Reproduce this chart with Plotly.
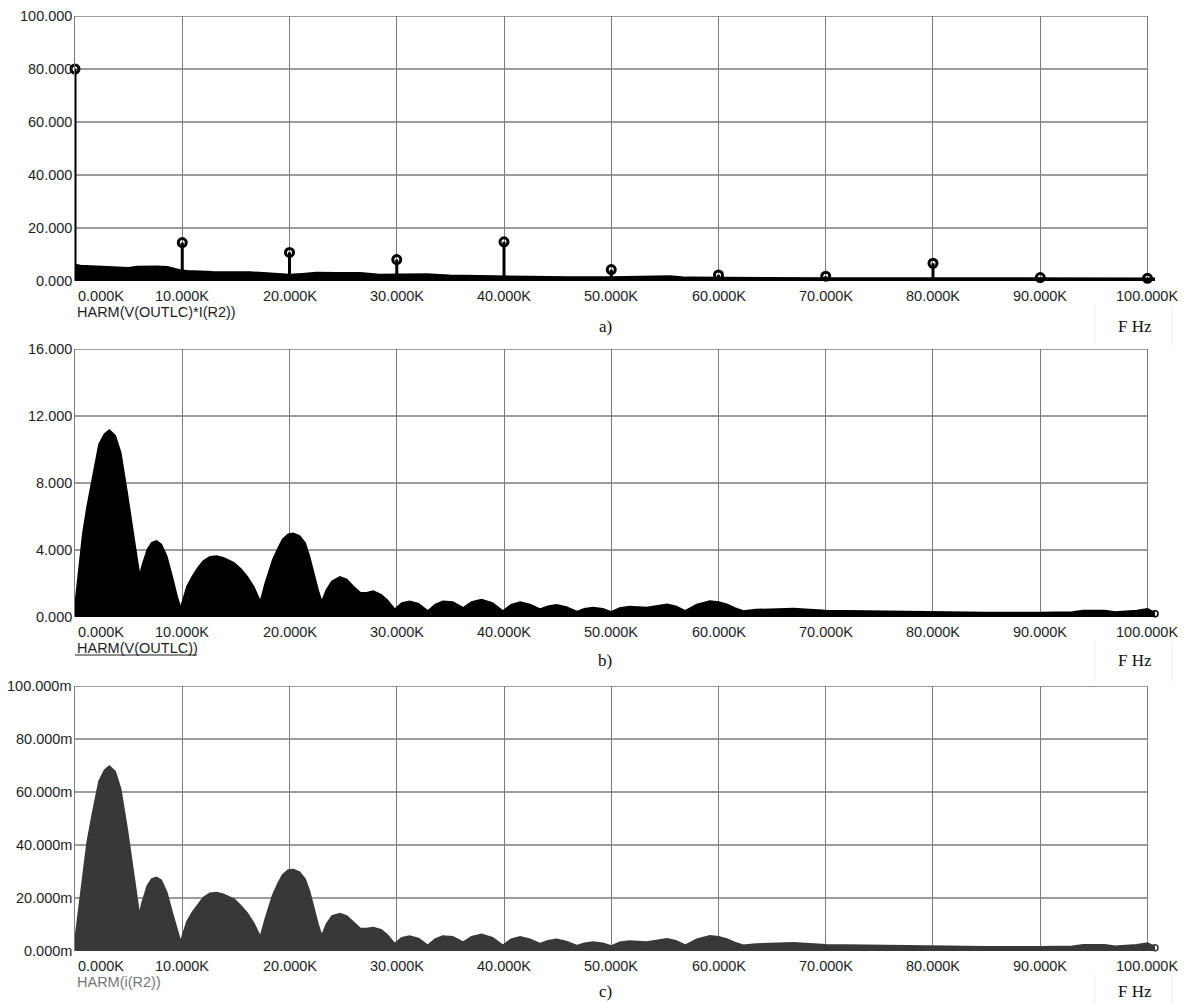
import plotly.graph_objects as go

# ---------------- data ----------------
x_ticks = [0, 10, 20, 30, 40, 50, 60, 70, 80, 90, 100]
x_tick_labels = ["0.000K", "10.000K", "20.000K", "30.000K", "40.000K", "50.000K",
                 "60.000K", "70.000K", "80.000K", "90.000K", "100.000K"]

# panel a: harmonic stems of HARM(V(OUTLC)*I(R2))
a_harm_freq = [0, 10, 20, 30, 40, 50, 60, 70, 80, 90, 100]
a_harm_vals = [80.0, 14.5, 10.8, 8.1, 14.8, 4.3, 2.3, 1.8, 6.7, 1.3, 1.0]
# panel a: noise floor envelope
a_floor_freq = [0, 0.5, 1.5, 2.3, 3.2, 4.2, 5.0, 5.8, 6.7, 7.6, 8.6, 9.3, 9.85, 10.5, 11.65,
                12.8, 14.1, 15.4, 16.3, 17.2, 18.5, 20.0, 21.2, 22.5, 24.5, 26.6, 28.4, 30.5,
                32.8, 34.9, 38.0, 42.0, 43.5, 46, 50, 53, 54, 55.5, 57, 60, 65, 70, 75, 80,
                85, 90, 95, 100, 100.7]
a_floor_vals = [5.8, 5.4, 5.2, 5.0, 4.7, 4.4, 4.5, 5.0, 5.2, 5.1, 4.9, 4.2, 3.6, 3.4, 3.1,
                3.0, 2.9, 3.1, 2.9, 2.7, 2.5, 2.0, 2.3, 2.7, 2.6, 2.6, 2.0, 2.1,
                2.2, 1.7, 1.5, 1.3, 0.9, 1.0, 1.0, 1.1, 1.5, 1.4, 0.9, 0.8, 0.8, 0.7, 0.7, 0.7,
                0.7, 0.6, 0.6, 0.7, 0.6]
a_y_ticks = [0, 20, 40, 60, 80, 100]
a_y_labels = ["0.000", "20.000", "40.000", "60.000", "80.000", "100.000"]

# panels b and c: spectrum envelopes
bc_freq = [0, 0.4, 0.8, 1.2, 1.7, 2.3, 2.8, 3.2, 3.7, 4.2, 4.8, 5.3, 5.7, 6.0, 6.3, 6.8, 7.2,
           7.6, 8.0, 8.5, 9.0, 9.5, 9.85, 10.1, 10.5, 11.0, 11.5, 12.0, 12.6, 13.2, 13.8, 14.3,
           14.8, 15.4, 16.0, 16.6, 17.0, 17.3, 17.8, 18.5, 19.0, 19.4, 19.9, 20.35, 20.9, 21.4,
           21.8, 22.2, 22.6, 23.0, 23.5, 24.0, 24.7, 25.3, 25.9, 26.6, 27.2, 27.8, 28.5, 29.05,
           29.8, 30.5, 31.2, 32.0, 32.9, 33.6, 34.3, 35.2, 36.2, 37.0, 37.9, 38.9, 39.9, 40.7,
           41.5, 42.4, 43.35, 44.1, 44.9, 45.8, 46.8, 47.5, 48.3, 49.2, 50.0, 50.8, 51.7, 52.5,
           53.3, 54.2, 55.2, 56.0, 56.9, 58.0, 59.2, 60.0, 60.75, 61.5, 62.3, 63.5, 64.5, 66.0,
           67.0, 70, 75, 80, 85, 90, 93, 94, 96, 97, 98, 99, 100, 100.7]
b_vals = [0.3, 2.5, 5.0, 6.6, 8.3, 10.3, 10.9, 11.1, 10.8, 9.8, 7.4, 5.2, 3.5, 2.3, 3.0, 4.0, 4.4,
          4.5, 4.3, 3.6, 2.4, 1.1, 0.4, 1.0, 1.8, 2.4, 2.9, 3.3, 3.55, 3.6, 3.5, 3.35,
          3.2, 2.85, 2.4, 1.8, 1.2, 0.8, 2.0, 3.4, 4.1, 4.6, 4.9, 4.95, 4.8, 4.4,
          3.6, 2.6, 1.6, 0.8, 1.6, 2.1, 2.35, 2.2, 1.8, 1.4, 1.4, 1.5, 1.3, 1.0,
          0.4, 0.8, 0.9, 0.75, 0.3, 0.7, 0.9, 0.85, 0.5, 0.85, 1.0, 0.8, 0.3, 0.7,
          0.85, 0.7, 0.42, 0.6, 0.68, 0.55, 0.28, 0.45, 0.52, 0.45, 0.26, 0.5, 0.58, 0.55,
          0.52, 0.62, 0.72, 0.6, 0.32, 0.7, 0.91, 0.85, 0.72, 0.5, 0.32, 0.4, 0.42, 0.45,
          0.46, 0.35, 0.3, 0.25, 0.22, 0.22, 0.25, 0.35, 0.35, 0.25, 0.3, 0.35, 0.45, 0.2]
b_y_ticks = [0, 4, 8, 12, 16]
b_y_labels = ["0.000", "4.000", "8.000", "12.000", "16.000"]

c_vals = [2, 15, 30, 41, 52, 64, 68, 69.4, 67.5, 61, 46, 32, 21, 12, 18, 24.5, 27,
          27.5, 26.5, 22, 14.5, 7, 2.5, 6, 11, 14.5, 17.5, 20, 21.5, 21.8, 21.2, 20.3,
          19.3, 17, 14.2, 10.5, 7, 4.7, 12, 21, 25.5, 28.5, 30.3, 30.5, 29.5, 27,
          22.5, 16, 10, 5, 10, 13, 13.8, 13, 10.8, 8.2, 8.2, 8.6, 7.8, 6,
          2.4, 4.8, 5.4, 4.5, 1.8, 4.2, 5.4, 5.1, 3.0, 5.1, 6.0, 4.8, 1.8, 4.2,
          5.1, 4.2, 2.5, 3.6, 4.1, 3.3, 1.7, 2.7, 3.1, 2.7, 1.6, 3.0, 3.5, 3.3,
          3.1, 3.7, 4.3, 3.6, 1.9, 4.2, 5.5, 5.1, 4.3, 3.0, 1.9, 2.4, 2.5, 2.7,
          2.8, 2.1, 1.8, 1.5, 1.3, 1.3, 1.5, 2.1, 2.1, 1.5, 1.8, 2.1, 2.7, 1.2]
c_y_ticks = [0, 20, 40, 60, 80, 100]
c_y_labels = ["0.000m", "20.000m", "40.000m", "60.000m", "80.000m", "100.000m"]

trace_names = ["HARM(V(OUTLC)*I(R2))", "HARM(V(OUTLC))", "HARM(i(R2))"]
panel_tags = ["a)", "b)", "c)"]
unit_label = "F Hz"

# ---------------- layout helpers ----------------
W, H = 1189, 1003
X_LEFT, X_RIGHT = 75, 1155
X_MAX = 100.7
panels = [(16, 281), (349, 617), (686, 951)]  # top/bottom pixel rows of plot areas
y_ranges = [(0, 100), (0, 16), (0, 100)]
caption_rows = [326, 660, 991]


def fx(p):
    return p / W


def fy(p):
    return 1 - p / H


SANS = "Liberation Sans, Arial, sans-serif"
SERIF = "Liberation Serif, Times New Roman, serif"
GRID = "#7b7b7b"
TXT = "#1e1e1e"
FS = 14.5

fig = go.Figure()
layout = dict(width=W, height=H, margin=dict(l=0, r=0, t=0, b=0), autosize=False,
              paper_bgcolor="white", plot_bgcolor="white", showlegend=False)
shapes = []
annotations = []

for i, ((top, bot), yr) in enumerate(zip(panels, y_ranges)):
    sfx = "" if i == 0 else str(i + 1)
    xa, ya = "x" + sfx, "y" + sfx
    layout["xaxis" + sfx] = dict(domain=[fx(X_LEFT), fx(X_RIGHT)], range=[0, X_MAX],
                                  anchor=ya, showgrid=True, tickvals=x_ticks, gridcolor=GRID,
                                  gridwidth=1.4, showticklabels=False, zeroline=False,
                                  showline=False, ticks="", fixedrange=True)
    layout["yaxis" + sfx] = dict(domain=[fy(bot), fy(top)], range=list(yr), anchor=xa,
                                  showgrid=False, showticklabels=False, zeroline=False,
                                  showline=True, linecolor=GRID, linewidth=1.4, ticks="",
                                  fixedrange=True)
    yt = [a_y_ticks, b_y_ticks, c_y_ticks][i]
    yl = [a_y_labels, b_y_labels, c_y_labels][i]
    for v, lab in zip(yt, yl):
        if v > 0:
            shapes.append(dict(type="line", xref=xa, yref=ya, x0=0, x1=100, y0=v, y1=v,
                               line=dict(color=GRID, width=1.4), layer="below"))
        annotations.append(dict(xref="paper", yref=ya, x=fx(X_LEFT - 1), y=v, text=lab,
                                xanchor="right", yanchor="middle", showarrow=False,
                                font=dict(family=SANS, size=FS, color=TXT)))
    for k, (v, lab) in enumerate(zip(x_ticks, x_tick_labels)):
        annotations.append(dict(xref=xa, yref="paper", x=v, y=fy(bot + 15), text=lab,
                                xanchor="left" if k == 0 else "center", yanchor="middle",
                                xshift=1 if k == 0 else 0, showarrow=False,
                                font=dict(family=SANS, size=FS, color=TXT)))
    name_col = "#777777" if i == 2 else TXT
    annotations.append(dict(xref="paper", yref="paper", x=fx(X_LEFT), y=fy(bot + 31),
                            text=trace_names[i], xanchor="left", yanchor="middle",
                            showarrow=False, font=dict(family=SANS, size=FS, color=name_col)))
    cy = caption_rows[i]
    annotations.append(dict(xref="paper", yref="paper", x=fx(605), y=fy(cy),
                            text=panel_tags[i], xanchor="center", yanchor="middle",
                            showarrow=False, font=dict(family=SERIF, size=17, color="#111")))
    annotations.append(dict(xref="paper", yref="paper", x=fx(1135), y=fy(cy),
                            text=unit_label, xanchor="center", yanchor="middle",
                            showarrow=False, font=dict(family=SERIF, size=17, color="#111")))
    # faint table-cell borders around the captions
    for xp in (1095, 1172):
        shapes.append(dict(type="line", xref="paper", yref="paper", x0=fx(xp), x1=fx(xp),
                           y0=fy(bot + 24), y1=fy(bot + 64 if i < 2 else H),
                           line=dict(color="#ececec", width=1)))

# underline under panel b trace name
shapes.append(dict(type="line", xref="paper", yref="paper", x0=fx(75), x1=fx(197),
                   y0=fy(655), y1=fy(655), line=dict(color=TXT, width=1)))

# ---- traces ----
# panel a noise floor
fig.add_trace(go.Scatter(x=a_floor_freq, y=a_floor_vals, mode="lines", fill="tozeroy",
                         fillcolor="black", line=dict(color="black", width=4),
                         xaxis="x", yaxis="y", hoverinfo="skip"))
# panel a stems
sx, sy = [], []
for f, v in zip(a_harm_freq, a_harm_vals):
    sx += [f, f, None]
    sy += [0, v, None]
fig.add_trace(go.Scatter(x=sx, y=sy, mode="lines", line=dict(color="black", width=3),
                         xaxis="x", yaxis="y", hoverinfo="skip"))
fig.add_trace(go.Scatter(x=a_harm_freq, y=a_harm_vals, mode="markers", cliponaxis=False,
                         marker=dict(symbol="circle-open", size=8, color="black",
                                     line=dict(width=3, color="black")),
                         xaxis="x", yaxis="y", hoverinfo="skip"))

# panel b
fig.add_trace(go.Scatter(x=bc_freq, y=b_vals, mode="lines", fill="tozeroy",
                         fillcolor="black", line=dict(color="black", width=3),
                         xaxis="x2", yaxis="y2", hoverinfo="skip"))
fig.add_trace(go.Scatter(x=[bc_freq[-1]], y=[b_vals[-1]], mode="markers", cliponaxis=False,
                         marker=dict(symbol="circle-open", size=6, color="black",
                                     line=dict(width=1.5, color="black")),
                         xaxis="x2", yaxis="y2", hoverinfo="skip"))
# panel c
CC = "#383838"
fig.add_trace(go.Scatter(x=bc_freq, y=c_vals, mode="lines", fill="tozeroy",
                         fillcolor=CC, line=dict(color=CC, width=3),
                         xaxis="x3", yaxis="y3", hoverinfo="skip"))
fig.add_trace(go.Scatter(x=[bc_freq[-1]], y=[c_vals[-1]], mode="markers", cliponaxis=False,
                         marker=dict(symbol="circle-open", size=6, color=CC,
                                     line=dict(width=1.5, color=CC)),
                         xaxis="x3", yaxis="y3", hoverinfo="skip"))

layout["shapes"] = shapes
layout["annotations"] = annotations
fig.update_layout(**layout)
fig.write_html("out.html", config={"displayModeBar": False},
               post_script="document.body.style.margin='0';document.body.style.overflow='hidden';")
